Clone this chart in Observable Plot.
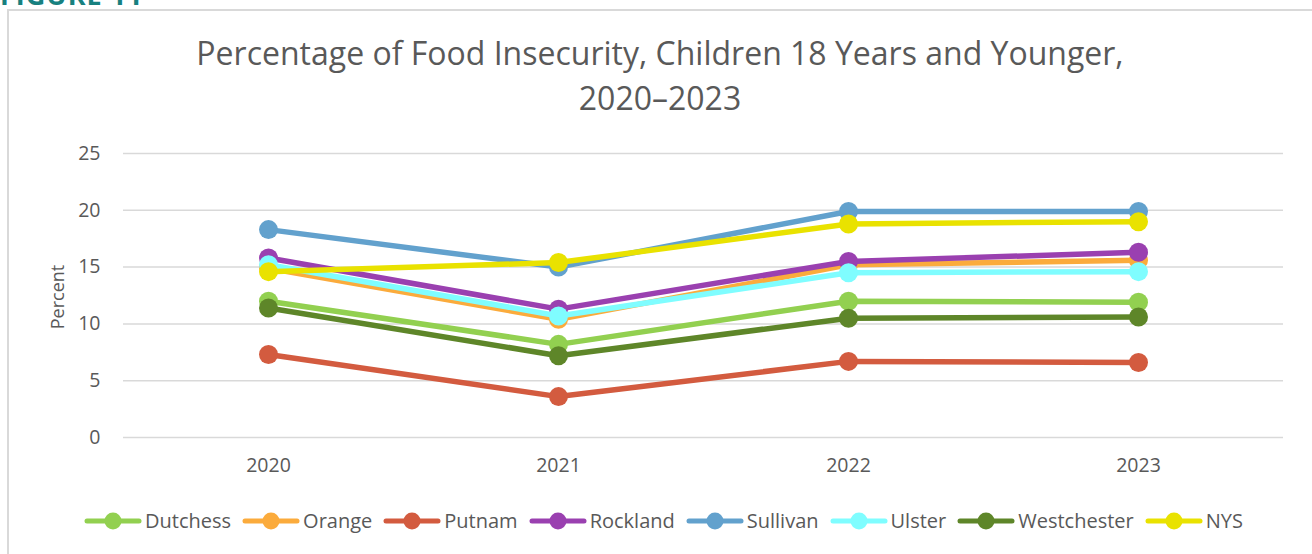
<!DOCTYPE html>
<html>
<head>
<meta charset="utf-8">
<script src="https://cdn.jsdelivr.net/npm/d3@7"></script>
<script src="https://cdn.jsdelivr.net/npm/@observablehq/plot@0.6"></script>
<style>
  html, body { margin: 0; padding: 0; background: #fff; overflow: hidden; }
  body { width: 1312px; height: 554px; position: relative; font-family: "Open Sans", sans-serif; color: #595959; }
  #fig { position: absolute; left: 0; top: -24px; font: bold 27px "Open Sans", sans-serif; color: #17807f; letter-spacing: 1px; }
  #frame { position: absolute; left: 7px; top: 9px; width: 1330px; height: 570px; border: 2px solid #d9d9d9; box-sizing: border-box; }
  #title { position: absolute; left: 0; width: 1320px; top: 30px; text-align: center; font-size: 32px; line-height: 45px; color: #595959; }
  #chart { position: absolute; left: 0; top: 130px; }
  #ylabel { position: absolute; left: 57px; top: 297px; transform: translate(-50%, -50%) rotate(-90deg); font-size: 18px; white-space: nowrap; }
  #legend { position: absolute; left: 0; width: 1327px; top: 507px; display: flex; justify-content: center; gap: 11px; font-size: 20px; }
  .item { display: flex; align-items: center; }
  .item svg { margin-right: 3px; }
</style>
</head>
<body>
<div id="fig">FIGURE 11</div>
<div id="frame"></div>
<div id="title">Percentage of Food Insecurity, Children 18 Years and Younger,<br>2020–2023</div>
<div id="chart"></div>
<div id="ylabel">Percent</div>
<div id="legend"></div>
<script>
const years = ["2020", "2021", "2022", "2023"];
const seriesNames = ["Dutchess", "Orange", "Putnam", "Rockland", "Sullivan", "Ulster", "Westchester", "NYS"];
const seriesColors = ["#92d050", "#fbab3c", "#d35b3f", "#9a40b0", "#62a1cd", "#7ffdff", "#5e8629", "#e9e200"];
const dutchess    = [12.0, 8.2, 12.0, 11.9];
const orange      = [14.9, 10.4, 15.2, 15.6];
const putnam      = [7.3, 3.6, 6.7, 6.6];
const rockland    = [15.8, 11.3, 15.5, 16.3];
const sullivan    = [18.3, 15.0, 19.9, 19.9];
const ulster      = [15.2, 10.7, 14.5, 14.6];
const westchester = [11.4, 7.2, 10.5, 10.6];
const nys         = [14.6, 15.4, 18.8, 19.0];
const yTicks = [0, 5, 10, 15, 20, 25];

const seriesValues = [dutchess, orange, putnam, rockland, sullivan, ulster, westchester, nys];
const seriesData = seriesNames.map((name, i) =>
  years.map((year, j) => ({ series: name, year, value: seriesValues[i][j] })));

const marks = [
  Plot.ruleY(yTicks, { stroke: "#d9d9d9", strokeWidth: 1.5 }),
  Plot.axisY({ ticks: yTicks, tickSize: 0, tickPadding: 23, fontSize: 19.5, label: null, fill: "#595959" }),
  Plot.axisX({ tickSize: 0, tickPadding: 21, fontSize: 19.5, label: null, fill: "#595959" })
];
seriesData.forEach((data, i) => {
  marks.push(Plot.line(data, { x: "year", y: "value", stroke: seriesColors[i], strokeWidth: 5.5, strokeLinejoin: "round", strokeLinecap: "round" }));
  marks.push(Plot.dot(data, { x: "year", y: "value", r: 9.5, fill: seriesColors[i], stroke: "none" }));
});

const chart = Plot.plot({
  width: 1312,
  height: 360,
  marginLeft: 123,
  marginRight: 29,
  marginTop: 23,
  marginBottom: 53,
  style: { fontFamily: "'Open Sans', sans-serif", color: "#595959", background: "transparent" },
  x: { type: "point", domain: years, padding: 0.5 },
  y: { domain: [0, 25] },
  marks
});
document.getElementById("chart").appendChild(chart);

const legend = document.getElementById("legend");
seriesNames.forEach((name, i) => {
  const item = document.createElement("div");
  item.className = "item";
  item.innerHTML = `<svg width="58" height="20"><line x1="3" y1="10" x2="55" y2="10" stroke="${seriesColors[i]}" stroke-width="5" stroke-linecap="round"/><circle cx="29" cy="10" r="8.5" fill="${seriesColors[i]}"/></svg><span>${name}</span>`;
  legend.appendChild(item);
});
</script>
</body>
</html>
